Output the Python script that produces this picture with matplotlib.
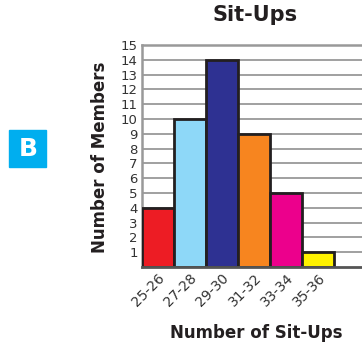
import matplotlib.pyplot as plt
import numpy as np
from matplotlib.patches import Rectangle

# data
ranges = ["25-26", "27-28", "29-30", "31-32", "33-34", "35-36"]
members = [4, 10, 14, 9, 5, 1]
colors = ["#ED1C24", "#8ED8F8", "#2E3192", "#F7851F", "#EC008C", "#FFF200"]
y_ticks = list(range(1, 16))

W, H = 362, 347
fig = plt.figure(figsize=(W / 100, H / 100), dpi=100)

# axes run off the right edge like in the original
left, top, bottom, right = 142, 45, 267, 372
ax = fig.add_axes([left / W, 1 - bottom / H, (right - left) / W, (bottom - top) / H])

x = np.arange(len(ranges)) + 0.5
ax.bar(x, members, width=1.0, color=colors, edgecolor="#231F20",
       linewidth=2.0, zorder=3)

ax.set_xlim(0, (right - left) / 32)
ax.set_ylim(0, 15)
ax.set_yticks(y_ticks)
ax.set_yticklabels([str(v) for v in y_ticks], fontsize=9.5, color="#333333")
ax.tick_params(axis="y", length=0, pad=3)
ax.yaxis.grid(True, color="#999999", linewidth=1.3, zorder=0)
ax.set_axisbelow(True)

ax.set_xticks(x)
ax.set_xticklabels(ranges, rotation=45, ha="right", va="top",
                   rotation_mode="anchor", fontsize=10, color="#333333")
ax.tick_params(axis="x", length=0, pad=3)

for side in ["left", "top"]:
    ax.spines[side].set_color("#999999")
    ax.spines[side].set_linewidth(1.8)
ax.spines["right"].set_visible(False)
ax.spines["bottom"].set_color("#555555")
ax.spines["bottom"].set_linewidth(2.0)
ax.spines["bottom"].set_zorder(4)

fig.text(255 / W, 1 - 15 / H, "Sit-Ups", ha="center", va="center",
         fontsize=15, fontweight="bold", color="#231F20")
fig.text(100 / W, 1 - 157 / H, "Number of Members", ha="center", va="center",
         rotation=90, fontsize=12, fontweight="bold", color="#231F20")
fig.text(256 / W, 1 - 333 / H, "Number of Sit-Ups", ha="center", va="center",
         fontsize=12, fontweight="bold", color="#231F20")

# blue "B" badge
fig.patches.append(Rectangle((9 / W, 1 - 167 / H), 37 / W, 37 / H,
                             transform=fig.transFigure, color="#00AEEF"))
fig.text(28 / W, 1 - 148.5 / H, "B", ha="center", va="center",
         fontsize=18, fontweight="bold", color="white")

fig.savefig("out.png", dpi=100)
